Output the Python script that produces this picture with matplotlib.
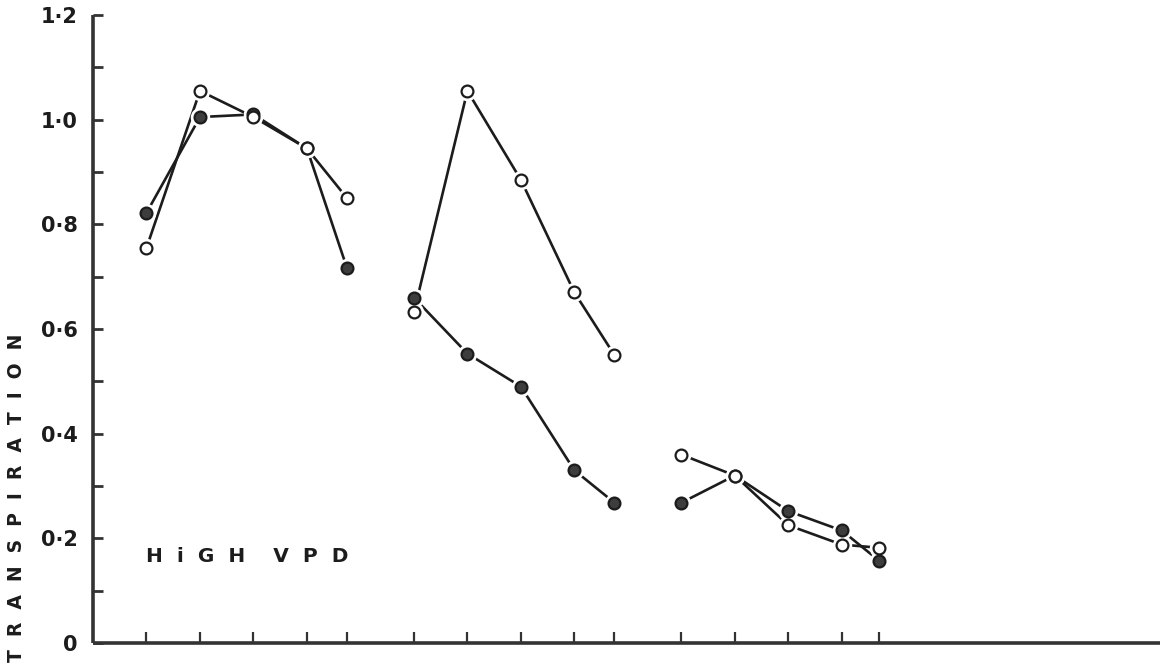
import matplotlib
matplotlib.use("Agg")
import matplotlib.pyplot as plt
from matplotlib.ticker import FixedLocator, MultipleLocator

# x positions of the sampling points (three runs of five readings)
x_run1 = [1, 2, 3, 4, 4.75]
x_run2 = [6, 7, 8, 9, 9.75]
x_run3 = [11, 12, 13, 14, 14.7]

# open circles
open_run1 = [0.755, 1.055, 1.005, 0.945, 0.850]
open_run2 = [0.632, 1.055, 0.885, 0.670, 0.550]
open_run3 = [0.360, 0.320, 0.225, 0.188, 0.182]

# filled circles
filled_run1 = [0.822, 1.005, 1.010, 0.945, 0.716]
filled_run2 = [0.660, 0.553, 0.490, 0.330, 0.268]
filled_run3 = [0.268, 0.320, 0.252, 0.215, 0.157]

y_major = [0, 0.2, 0.4, 0.6, 0.8, 1.0, 1.2]
y_labels = ["0", "0·2", "0·4", "0·6", "0·8", "1·0", "1·2"]
x_ticks = x_run1 + x_run2 + x_run3

INK = "#1c1c1c"

fig = plt.figure(figsize=(11.67, 6.65), dpi=100)
ax = fig.add_axes([93 / 1167, 22 / 665, (1160 - 93) / 1167, (643 - 15) / 665])


def draw(xs, ys, filled):
    # white halo first so lines stop short of the circles, like the ink drawing
    ax.plot(xs, ys, color=INK, lw=1.9, solid_capstyle="round", zorder=2)
    ax.plot(xs, ys, ls="none", marker="o", ms=13, mfc="white", mec="white", zorder=3)
    ax.plot(xs, ys, ls="none", marker="o", ms=8.5, mec=INK, mew=1.6,
            mfc="#3d3d3d" if filled else "white", zorder=4 if filled else 5)


for xs, yo, yf in [(x_run1, open_run1, filled_run1),
                   (x_run2, open_run2, filled_run2),
                   (x_run3, open_run3, filled_run3)]:
    draw(xs, yo, False)
    draw(xs, yf, True)

ax.set_xlim(0, 19.95)
ax.set_ylim(0, 1.2)

for side in ("top", "right"):
    ax.spines[side].set_visible(False)
for side in ("left", "bottom"):
    ax.spines[side].set_linewidth(2.6)
    ax.spines[side].set_color("#333333")
    ax.spines[side].set_capstyle("butt")

ax.yaxis.set_major_locator(FixedLocator(y_major))
ax.set_yticklabels(y_labels, fontsize=15, fontweight="bold", color=INK,
                   family="DejaVu Sans")
ax.yaxis.set_minor_locator(MultipleLocator(0.1))
ax.tick_params(axis="y", which="both", direction="in", length=7, width=2,
               color="#333333", pad=11)
ax.xaxis.set_major_locator(FixedLocator(x_ticks))
ax.set_xticklabels([])
ax.tick_params(axis="x", which="both", direction="in", length=8, width=1.6,
               color="#333333")

ax.text(1.0, 0.166, "H  i  G  H    V  P  D", fontsize=14.5, fontweight="bold",
        color=INK, va="center", ha="left")

fig.text(0.014, 0.004, "T  R  A  N  S  P  I  R  A  T  I  O  N", rotation=90,
         fontsize=13.5, fontweight="bold", color=INK, ha="center", va="bottom")

fig.savefig("out.png", dpi=100)
